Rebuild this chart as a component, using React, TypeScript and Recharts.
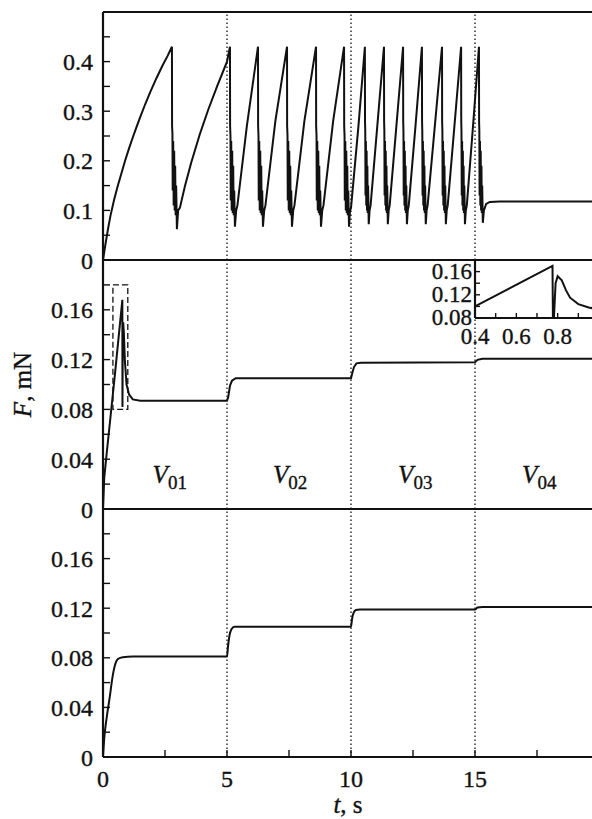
import React from 'react';
import { LineChart, Line, XAxis, YAxis, ReferenceLine, ReferenceArea, ReferenceDot } from 'recharts';

const INK = '#111';
const FONT = "'Liberation Serif', 'Times New Roman', serif";

// top panel: stick-slip force
const topT = [
  0, 0.1, 0.2, 0.3, 0.45, 0.6, 0.75, 0.89, 1.05, 1.2, 1.35, 1.5, 1.7, 1.9, 2.15, 2.4, 2.6, 2.78,
  2.785, 2.8, 2.81, 2.83, 2.85, 2.87, 2.89, 2.91, 2.93, 2.95, 2.98, 3.03, 3.1,
  3.3, 3.55, 3.9, 4.25, 4.6, 5.0, 5.12,
  5.125, 5.14, 5.15, 5.17, 5.19, 5.21, 5.23, 5.25, 5.27, 5.29, 5.32, 5.37, 5.42, 5.8, 6.25,
  6.255, 6.27, 6.28, 6.3, 6.32, 6.34, 6.36, 6.38, 6.4, 6.42, 6.45, 6.5, 6.55, 6.95, 7.42,
  7.425, 7.44, 7.45, 7.47, 7.49, 7.51, 7.53, 7.55, 7.57, 7.59, 7.62, 7.67, 7.72, 8.12, 8.59,
  8.595, 8.61, 8.62, 8.64, 8.66, 8.68, 8.7, 8.72, 8.74, 8.76, 8.79, 8.84, 8.89, 9.28, 9.72,
  9.725, 9.74, 9.75, 9.77, 9.79, 9.81, 9.83, 9.85, 9.87, 9.89, 9.92, 9.96, 10.0, 10.3, 10.56,
  10.565, 10.575, 10.585, 10.6, 10.615, 10.63, 10.645, 10.66, 10.675, 10.69, 10.715, 10.75, 10.79, 11.06, 11.33,
  11.335, 11.345, 11.355, 11.37, 11.385, 11.4, 11.415, 11.43, 11.445, 11.46, 11.485, 11.52, 11.56, 11.83, 12.1,
  12.105, 12.115, 12.125, 12.14, 12.155, 12.17, 12.185, 12.2, 12.215, 12.23, 12.255, 12.29, 12.33, 12.6, 12.86,
  12.865, 12.875, 12.885, 12.9, 12.915, 12.93, 12.945, 12.96, 12.975, 12.99, 13.015, 13.05, 13.09, 13.38, 13.67,
  13.675, 13.685, 13.695, 13.71, 13.725, 13.74, 13.755, 13.77, 13.785, 13.8, 13.825, 13.86, 13.9, 14.17, 14.44,
  14.445, 14.455, 14.465, 14.48, 14.495, 14.51, 14.525, 14.54, 14.555, 14.57, 14.595, 14.63, 14.67, 14.92, 15.16,
  15.165, 15.175, 15.185, 15.2, 15.215, 15.23, 15.245, 15.26, 15.275, 15.29, 15.315, 15.36, 15.45, 15.6, 16.0, 20,
];
const topF = [
  0, 0.032, 0.062, 0.089, 0.122, 0.15, 0.176, 0.2, 0.225, 0.247, 0.268, 0.288, 0.314, 0.338, 0.366, 0.392, 0.411, 0.43,
  0.27, 0.255, 0.14, 0.24, 0.11, 0.22, 0.1, 0.19, 0.09, 0.15, 0.062, 0.1, 0.105,
  0.148, 0.195, 0.253, 0.304, 0.35, 0.4, 0.43,
  0.27, 0.25, 0.12, 0.24, 0.1, 0.22, 0.095, 0.19, 0.09, 0.14, 0.067, 0.1, 0.11, 0.27, 0.43,
  0.27, 0.25, 0.12, 0.24, 0.1, 0.22, 0.095, 0.19, 0.09, 0.14, 0.067, 0.1, 0.11, 0.28, 0.43,
  0.27, 0.25, 0.12, 0.24, 0.1, 0.22, 0.095, 0.19, 0.09, 0.14, 0.067, 0.1, 0.11, 0.28, 0.43,
  0.27, 0.25, 0.12, 0.24, 0.1, 0.22, 0.095, 0.19, 0.09, 0.14, 0.067, 0.1, 0.11, 0.28, 0.43,
  0.27, 0.25, 0.12, 0.24, 0.1, 0.22, 0.095, 0.19, 0.09, 0.14, 0.067, 0.1, 0.105, 0.27, 0.43,
  0.28, 0.26, 0.13, 0.24, 0.11, 0.22, 0.1, 0.19, 0.095, 0.15, 0.072, 0.1, 0.11, 0.27, 0.43,
  0.28, 0.26, 0.13, 0.24, 0.11, 0.22, 0.1, 0.19, 0.095, 0.15, 0.072, 0.1, 0.11, 0.27, 0.43,
  0.28, 0.26, 0.13, 0.24, 0.11, 0.22, 0.1, 0.19, 0.095, 0.15, 0.072, 0.1, 0.11, 0.27, 0.43,
  0.28, 0.26, 0.13, 0.24, 0.11, 0.22, 0.1, 0.19, 0.095, 0.15, 0.072, 0.1, 0.11, 0.27, 0.43,
  0.28, 0.26, 0.13, 0.24, 0.11, 0.22, 0.1, 0.19, 0.095, 0.15, 0.072, 0.1, 0.11, 0.27, 0.43,
  0.28, 0.26, 0.13, 0.24, 0.11, 0.22, 0.1, 0.19, 0.095, 0.15, 0.072, 0.1, 0.11, 0.27, 0.43,
  0.28, 0.26, 0.13, 0.24, 0.11, 0.22, 0.1, 0.19, 0.095, 0.15, 0.075, 0.1, 0.113, 0.117, 0.118, 0.118,
];

// middle panel
const midT = [0, 0.05, 0.15, 0.48, 0.78, 0.785, 0.795, 0.815, 0.84, 0.88, 0.95, 1.05, 1.2, 1.5,
  5.0, 5.05, 5.12, 5.2, 5.35, 5.6, 10.0, 10.05, 10.12, 10.22, 10.4, 15.0, 15.1, 15.3, 20];
const midF = [0, 0.025, 0.045, 0.108, 0.168, 0.082, 0.125, 0.15, 0.142, 0.12, 0.1, 0.092, 0.088, 0.087,
  0.087, 0.09, 0.099, 0.103, 0.105, 0.105, 0.105, 0.109, 0.114, 0.117, 0.1175, 0.1178, 0.1198, 0.1206, 0.1207];

// bottom panel
const botT = [0, 0.05, 0.15, 0.27, 0.38, 0.48, 0.6, 0.8, 1.2, 5.0, 5.04, 5.1, 5.18, 5.3,
  10.0, 10.04, 10.1, 10.2, 10.35, 15.0, 15.1, 15.3, 20];
const botF = [0, 0.015, 0.032, 0.048, 0.064, 0.074, 0.079, 0.0805, 0.081, 0.081, 0.089, 0.098, 0.103, 0.105,
  0.105, 0.111, 0.116, 0.1185, 0.119, 0.119, 0.1205, 0.121, 0.121];

// inset (zoom of the first peak)
const insT = [0.4, 0.775, 0.777, 0.782, 0.79, 0.8, 0.82, 0.84, 0.86, 0.9, 0.95, 1.0];
const insF = [0.1, 0.17, 0.081, 0.081, 0.14, 0.152, 0.145, 0.128, 0.115, 0.104, 0.098, 0.095];

const boundaries = [5, 10, 15];
const vT = [2.0, 6.85, 11.9, 16.9];
const vSubs = ['01', '02', '03', '04'];
const vF = 0.021;

const topYTicks = [0, 0.05, 0.1, 0.15, 0.2, 0.25, 0.3, 0.35, 0.4, 0.45];
const topYLabels = [0, 0.1, 0.2, 0.3, 0.4];
const lowYTicks = [0, 0.02, 0.04, 0.06, 0.08, 0.1, 0.12, 0.14, 0.16, 0.18];
const lowYLabels = [0, 0.04, 0.08, 0.12, 0.16];
const topXTicks = [0, 2, 4, 6, 8, 10, 12, 14, 16, 18, 20];
const lowXTicks = [0, 2.5, 5, 7.5, 10, 12.5, 15, 17.5, 20];
const botXLabels = [0, 5, 10, 15];
const insXTicks = [0.4, 0.5, 0.6, 0.7, 0.8, 0.9, 1.0];
const insXLabels = [0.4, 0.6, 0.8];
const insYTicks = [0.08, 0.1, 0.12, 0.14, 0.16, 0.18];
const insYLabels = [0.08, 0.12, 0.16];

const rows = (ts: number[], fs: number[]) => ts.map((t, i) => ({ t, f: fs[i] }));
const topRows = rows(topT, topF);
const midRows = rows(midT, midF);
const botRows = rows(botT, botF);
const insRows = rows(insT, insF);

const has = (arr: number[], v: number) => arr.some((a) => Math.abs(a - v) < 1e-9);
const fmt = (v: number, d: number) => (v === 0 ? '0' : v.toFixed(d));
// the scan's lettering is a bit heavier than plain Times, hence the hairline stroke
const txt = (fs: number) => ({ fontFamily: FONT, fontSize: fs, fill: INK, stroke: INK, strokeWidth: 0.35 });

const yTick = (labels: number[], digits: number, margin: number, len: number, fs: number, dy: number) => (p: any) => {
  const v = p.payload.value;
  const ax = p.x + margin;
  return (
    <g>
      <line x1={ax} x2={ax + len} y1={p.y} y2={p.y} stroke={INK} strokeWidth={1.4} />
      {has(labels, v) && (
        <text x={p.x} y={p.y + dy} textAnchor="end" style={txt(fs)}>{fmt(v, digits)}</text>
      )}
    </g>
  );
};

const xTick = (labels: number[], digits: number, len: number, fs: number, dy: number) => (p: any) => {
  const v = p.payload.value;
  return (
    <g>
      <line x1={p.x} x2={p.x} y1={p.y} y2={p.y - len} stroke={INK} strokeWidth={1.4} />
      {has(labels, v) && (
        <text x={p.x} y={p.y + dy} textAnchor="middle" style={txt(fs)}>{fmt(v, digits)}</text>
      )}
    </g>
  );
};

const vLabel = (sub: string) => (p: any) => (
  <text x={p.viewBox.x} y={p.viewBox.y} style={txt(25)}>
    <tspan fontStyle="italic">V</tspan>
    <tspan fontSize={19} dy={6}>{sub}</tspan>
  </text>
);

const yTitle = (p: any) => {
  const cy = p.viewBox.y + p.viewBox.height / 2;
  return (
    <text x={31} y={cy} transform={`rotate(-90, 31, ${cy})`} textAnchor="middle" style={txt(25)}>
      <tspan fontStyle="italic">F</tspan>, mN
    </text>
  );
};

const xTitle = (p: any) => (
  <text x={p.viewBox.x + p.viewBox.width / 2 - 3} y={p.viewBox.y + 56} textAnchor="middle" style={txt(25)}>
    <tspan fontStyle="italic">t</tspan>, s
  </text>
);

const axisLine = { stroke: INK, strokeWidth: 2.2 };

function dotted() {
  return boundaries.map((b) => (
    <ReferenceLine key={b} x={b} stroke={INK} strokeWidth={1.3} strokeDasharray="1.5 2.5" />
  ));
}

export default function App() {
  return (
    <div style={{ position: 'absolute', left: 0, top: 0, width: 592, height: 819, overflow: 'hidden', background: '#fff', fontFamily: FONT }}>
      {/* bottom panel */}
      <div style={{ position: 'absolute', left: 0, top: 499 }}>
        <LineChart width={600} height={320} data={botRows} margin={{ top: 10, right: 1, bottom: 0, left: 0 }}>
          <XAxis dataKey="t" type="number" domain={[0, 20]} ticks={lowXTicks} interval={0} height={62}
            tickSize={0} tickMargin={0} tickLine={false} axisLine={axisLine} tick={xTick(botXLabels, 0, 7, 24, 30)}
            label={xTitle} allowDataOverflow />
          <YAxis type="number" domain={[0, 0.2]} ticks={lowYTicks} interval={0} width={103}
            tickSize={0} tickMargin={10} tickLine={false} axisLine={axisLine} tick={yTick(lowYLabels, 2, 10, 7, 24, 8.5)} allowDataOverflow />
          {dotted()}
          <ReferenceLine y={0.2} stroke={INK} strokeWidth={2.2} />
          <Line type="monotone" dataKey="f" stroke={INK} strokeWidth={2} dot={false} isAnimationActive={false} />
        </LineChart>
      </div>

      {/* middle panel */}
      <div style={{ position: 'absolute', left: 0, top: 250 }}>
        <LineChart width={600} height={280} data={midRows} margin={{ top: 10, right: 1, bottom: 21, left: 0 }}>
          <XAxis dataKey="t" type="number" domain={[0, 20]} ticks={lowXTicks} interval={0} height={0}
            tickSize={0} tickMargin={0} tickLine={false} axisLine={axisLine} tick={xTick([], 0, 7, 24, 30)} allowDataOverflow />
          <YAxis type="number" domain={[0, 0.2]} ticks={lowYTicks} interval={0} width={103}
            tickSize={0} tickMargin={10} tickLine={false} axisLine={axisLine} tick={yTick(lowYLabels, 2, 10, 7, 24, 8.5)}
            label={yTitle} allowDataOverflow />
          {dotted()}
          <ReferenceLine y={0.2} stroke={INK} strokeWidth={2.2} />
          <ReferenceArea x1={0.4} x2={1.0} y1={0.08} y2={0.18} fill="none" fillOpacity={0} stroke={INK} strokeWidth={1.3} strokeDasharray="6 3" />
          {vT.map((t, i) => (
            <ReferenceDot key={vSubs[i]} x={t} y={vF} r={0} stroke="none" fill="none" label={vLabel(vSubs[i])} />
          ))}
          <Line type="linear" dataKey="f" stroke={INK} strokeWidth={2} dot={false} isAnimationActive={false} />
        </LineChart>
      </div>

      {/* top panel */}
      <div style={{ position: 'absolute', left: 0, top: 0 }}>
        <LineChart width={600} height={280} data={topRows} margin={{ top: 12, right: 1, bottom: 20, left: 0 }}>
          <XAxis dataKey="t" type="number" domain={[0, 20]} ticks={topXTicks} interval={0} height={0}
            tickSize={0} tickMargin={0} tickLine={false} axisLine={axisLine} tick={xTick([], 0, 7, 24, 30)} allowDataOverflow />
          <YAxis type="number" domain={[0, 0.5]} ticks={topYTicks} interval={0} width={103}
            tickSize={0} tickMargin={10} tickLine={false} axisLine={axisLine} tick={yTick(topYLabels, 1, 10, 7, 24, 8.5)} allowDataOverflow />
          {dotted()}
          <ReferenceLine y={0.5} stroke={INK} strokeWidth={2.2} />
          <Line type="linear" dataKey="f" stroke={INK} strokeWidth={2} dot={false} isAnimationActive={false} />
        </LineChart>
      </div>

      {/* inset */}
      <div style={{ position: 'absolute', left: 415, top: 258 }}>
        <LineChart width={185} height={92} data={insRows} margin={{ top: 2, right: 1, bottom: 0, left: 0 }}>
          <XAxis dataKey="t" type="number" domain={[0.4, 1.0]} ticks={insXTicks} interval={0} height={32}
            tickSize={0} tickMargin={0} tickLine={false} axisLine={axisLine} tick={xTick(insXLabels, 1, 5, 23, 26)} allowDataOverflow />
          <YAxis type="number" domain={[0.08, 0.18]} ticks={insYTicks} interval={0} width={60}
            tickSize={0} tickMargin={3} tickLine={false} axisLine={axisLine} tick={yTick(insYLabels, 2, 3, 5, 23, 7)} allowDataOverflow />
          <ReferenceLine y={0.18} stroke={INK} strokeWidth={2.2} />
          <Line type="linear" dataKey="f" stroke={INK} strokeWidth={2} dot={false} isAnimationActive={false} />
        </LineChart>
      </div>
    </div>
  );
}
